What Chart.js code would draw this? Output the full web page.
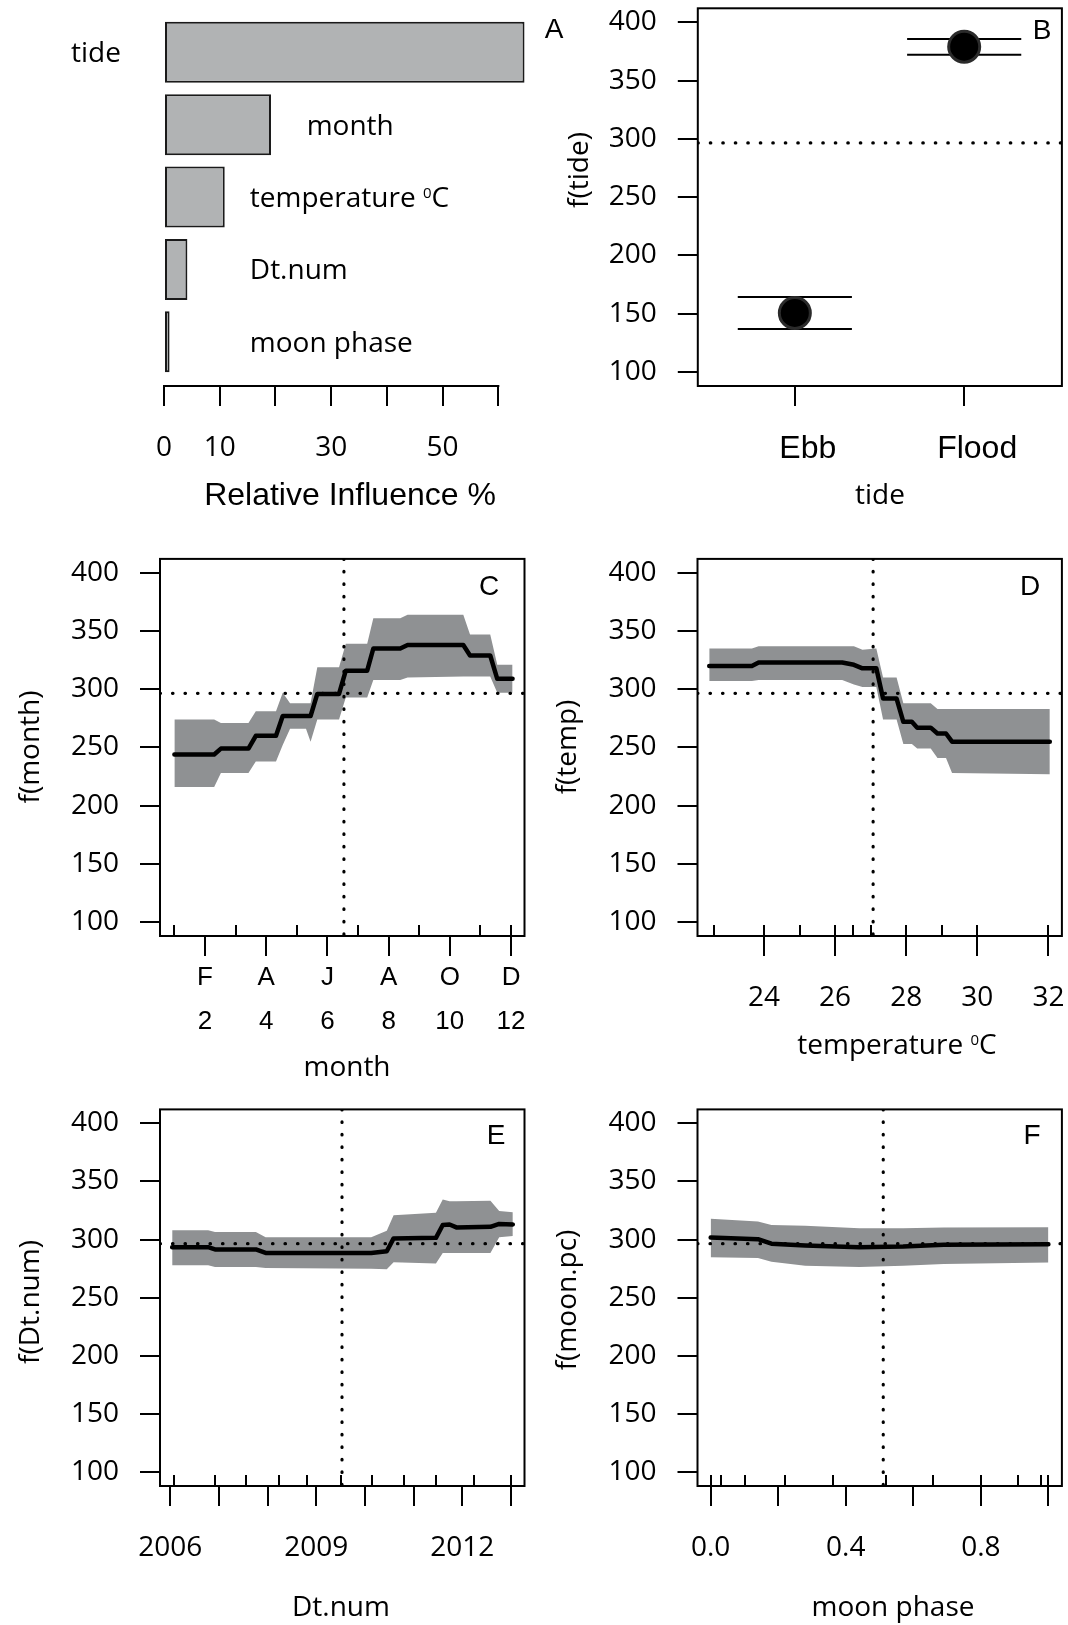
<!DOCTYPE html>
<html>
<head>
<meta charset="utf-8">
<script src="https://cdn.jsdelivr.net/npm/chart.js@4.4.1/dist/chart.umd.min.js"></script>
<style>
  html, body { margin: 0; padding: 0; background: #fff; }
  #figure { position: relative; width: 1068px; height: 1625px; background: #fff; overflow: hidden; }
  #figure canvas { position: absolute; }
</style>
</head>
<body>
<div id="figure">
  <canvas id="panelA" width="580" height="520" style="left:0;top:0"></canvas>
  <canvas id="panelB" width="534" height="520" style="left:534px;top:0"></canvas>
  <canvas id="panelC" width="534" height="565" style="left:0;top:520px"></canvas>
  <canvas id="panelD" width="534" height="565" style="left:534px;top:520px"></canvas>
  <canvas id="panelE" width="534" height="540" style="left:0;top:1085px"></canvas>
  <canvas id="panelF" width="534" height="540" style="left:534px;top:1085px"></canvas>
</div>
<script>
// ======================================
// Data
// ======================================

// A: relative influence of each predictor (%)
const predictors = ["tide", "month", "temperature ^0C", "Dt.num", "moon phase"];
const relInfluence = [64.7, 19.2, 10.9, 4.2, 1.0];
const influenceTicks = [0, 10, 20, 30, 40, 50, 60];
const influenceTickLabels = ["0", "10", "", "30", "", "50", ""];

// B: fitted effect of tide (factor)
const tideLevels = ["Ebb", "Flood"];
const tideFit = [150.7, 379.1];
const tideUpper = [164.4, 385.7];
const tideLower = [136.9, 372.2];

// shared response axis and overall mean
const effectTicks = [100, 150, 200, 250, 300, 350, 400];
const meanResponse = 296.5;

// C: month
const monthX = [1.0, 2.3, 2.52, 3.42, 3.66, 4.32, 4.54, 4.78, 5.3, 5.45, 5.67, 6.38, 6.6, 7.3, 7.5, 8.38, 8.62, 10.44, 10.66, 11.32, 11.55, 12.05];
const monthFit = [244, 244, 249, 249, 260, 260, 277, 277, 277, 277, 296, 296, 316, 316, 335, 335, 338, 338, 329, 329, 309, 309];
const monthUpper = [274, 274, 271, 271, 281, 281, 297, 288, 288, 288, 319, 319, 339, 339, 361, 361, 364, 364, 347, 347, 321, 321];
const monthLower = [216, 216, 228, 228, 238, 238, 252, 266, 266, 255, 274, 274, 293, 293, 308, 308, 310, 311, 311, 311, 297, 297];
const monthTicks = [2, 4, 6, 8, 10, 12];
const monthLetters = ["F", "A", "J", "A", "O", "D"];
const monthRug = [1, 3, 5, 7, 9, 11, 12];
const monthMean = 6.54;

// D: temperature
const tempX = [22.46, 23.66, 23.85, 26.2, 26.53, 26.77, 27.16, 27.35, 27.73, 27.92, 28.16, 28.31, 28.69, 28.88, 29.12, 29.29, 32.04];
const tempFit = [320, 320, 323, 323, 321, 318, 318, 292, 292, 272, 272, 267, 267, 262, 262, 255, 255];
const tempUpper = [335, 335, 337, 337, 337, 334, 335, 310, 310, 288, 288, 288, 288, 283, 283, 283, 283];
const tempLower = [307, 307, 308, 308, 304, 302, 302, 274, 274, 253, 253, 249, 249, 241, 241, 228, 227];
const tempTicks = [24, 26, 28, 30, 32];
const tempRug = [22.6, 24, 25, 26, 26.5, 27, 28, 29, 30, 32];
const tempMean = 27.07;

// E: date (decimal year)
const dtX = [2006.04, 2006.78, 2006.92, 2007.76, 2007.96, 2010.13, 2010.45, 2010.59, 2011.46, 2011.6, 2011.74, 2011.88, 2012.58, 2012.76, 2013.04];
const dtFit = [293.5, 293.5, 291.5, 291.5, 288.5, 288.5, 290, 301, 301.5, 312.5, 313, 310.5, 311, 313.5, 313];
const dtUpper = [308, 308, 306.5, 306.5, 302, 302, 307.5, 321, 323, 334.5, 333, 333, 333.5, 324.5, 323.5];
const dtLower = [278, 278, 276.5, 276.5, 275.5, 275, 274.5, 280.5, 279.5, 288.5, 288.5, 288.5, 288.5, 302, 303];
const dtTicks = [2006, 2007, 2008, 2009, 2010, 2011, 2012, 2013];
const dtTickLabels = ["2006", "", "", "2009", "", "", "2012", ""];
const dtRug = [2006.08, 2006.91, 2007.56, 2008.23, 2008.82, 2009.51, 2010.14, 2010.8, 2011.46, 2012.24, 2013.0];
const dtMean = 2009.53;

// F: moon phase
const moonX = [0.0, 0.14, 0.18, 0.28, 0.44, 0.57, 0.69, 1.0];
const moonFit = [301.8, 300.3, 296.5, 295, 293.5, 294, 295.6, 296];
const moonUpper = [318, 315.6, 312.6, 312, 309.7, 309.7, 310.3, 310.6];
const moonLower = [284.8, 284.2, 281, 277.4, 276.5, 277.4, 278.9, 280.3];
const moonTicks = [0, 0.2, 0.4, 0.6, 0.8, 1.0];
const moonTickLabels = ["0.0", "", "0.4", "", "0.8", ""];
const moonRug = [0.0, 0.031, 0.102, 0.22, 0.361, 0.519, 0.659, 0.8, 0.909, 0.978, 1.0];
const moonMean = 0.511;

// ======================================
// Styles
// ======================================

const MYRIAD = "'Open Sans', 'Noto Sans', sans-serif";
const HELV = "'Liberation Sans', Arial, sans-serif";
const BAND = "#8f9193";
const BAR = "#b1b3b4";

Chart.defaults.font.family = MYRIAD;
Chart.defaults.color = "#000";

// ======================================
// Text helper (supports "^x" superscript)
// ======================================

function drawRich(ctx, text, x, y, size, family, align) {
    const parts = text.split("^");
    const runs = [{ t: parts[0], sup: false }];
    parts.slice(1).forEach(p => {
        runs.push({ t: p.charAt(0), sup: true });
        if (p.length > 1) runs.push({ t: p.slice(1), sup: false });
    });
    const supSize = Math.round(size * 0.55);
    let total = 0;
    runs.forEach(r => {
        ctx.font = (r.sup ? supSize : size) + "px " + family;
        r.w = ctx.measureText(r.t).width;
        total += r.w;
    });
    let cx = align === "center" ? x - total / 2 : (align === "right" ? x - total : x);
    const base = y + size * 0.357;
    ctx.textAlign = "left";
    ctx.textBaseline = "alphabetic";
    runs.forEach(r => {
        ctx.font = (r.sup ? supSize : size) + "px " + family;
        ctx.fillText(r.t, cx, r.sup ? base - 0.714 * (size - supSize) : base);
        cx += r.w;
    });
}

// ======================================
// Plugins
// ======================================

const panelText = {
    id: "panelText",
    afterDraw(chart, args, opts) {
        const ctx = chart.ctx;
        (opts.items || []).forEach(item => {
            ctx.save();
            ctx.fillStyle = "#000";
            ctx.translate(item.x, item.y);
            if (item.rotate) ctx.rotate(item.rotate);
            drawRich(ctx, item.text, 0, 0, item.size, item.family, "center");
            ctx.restore();
        });
    }
};

const frame = {
    id: "frame",
    defaults: { display: false },
    afterDatasetsDraw(chart, args, opts) {
        if (!opts.display) return;
        const { left, top, right, bottom } = chart.chartArea;
        const ctx = chart.ctx;
        ctx.save();
        ctx.lineWidth = 2;
        ctx.strokeStyle = "#000";
        ctx.strokeRect(left, top, right - left, bottom - top);
        ctx.restore();
    }
};

// short data ticks along the inside of the bottom axis
const rug = {
    id: "rug",
    afterDatasetsDraw(chart, args, opts) {
        if (!opts.values) return;
        const ctx = chart.ctx;
        const xs = chart.scales.x;
        const bottom = chart.chartArea.bottom;
        ctx.save();
        ctx.lineWidth = 2;
        ctx.strokeStyle = "#000";
        ctx.beginPath();
        opts.values.forEach(v => {
            const px = Math.round(xs.getPixelForValue(v));
            ctx.moveTo(px, bottom);
            ctx.lineTo(px, bottom - 11);
        });
        ctx.stroke();
        ctx.restore();
    }
};

// axis line spanning first to last tick only (panel A)
const axisLine = {
    id: "axisLine",
    afterDraw(chart, args, opts) {
        if (!opts.ticks) return;
        const ctx = chart.ctx;
        const xs = chart.scales.x;
        const y = chart.chartArea.bottom;
        ctx.save();
        ctx.lineWidth = 2;
        ctx.strokeStyle = "#000";
        ctx.beginPath();
        ctx.moveTo(xs.getPixelForValue(opts.ticks[0]) - 1, y);
        ctx.lineTo(xs.getPixelForValue(opts.ticks[opts.ticks.length - 1]) + 1, y);
        ctx.stroke();
        ctx.restore();
    }
};

// predictor names beside the bars (panel A)
const barLabels = {
    id: "barLabels",
    afterDatasetsDraw(chart, args, opts) {
        if (!opts.labels) return;
        const ctx = chart.ctx;
        const xs = chart.scales.x;
        const meta = chart.getDatasetMeta(0);
        ctx.save();
        ctx.fillStyle = "#000";
        meta.data.forEach((bar, i) => {
            drawRich(ctx, opts.labels[i], xs.getPixelForValue(opts.anchors[i]), bar.y,
                opts.size, opts.family, opts.align[i]);
        });
        ctx.restore();
    }
};

Chart.register(panelText, frame, rug, axisLine, barLabels);

// ======================================
// Shared axis builders
// ======================================

function pairs(xs, ys) {
    return xs.map((x, i) => ({ x: x, y: ys[i] }));
}

function fixedTicks(values) {
    return scale => { scale.ticks = values.map(v => ({ value: v })); };
}

// fixed axis size, no extra room reserved for edge labels
function fitHeight(h) {
    return s => { s.height = h; s.paddingLeft = 0; s.paddingRight = 0; };
}

function fitWidth(w) {
    return s => { s.width = w; s.paddingTop = 0; s.paddingBottom = 0; };
}

function xAxis(min, max, ticks, labels, font, padding, height, labelOffset) {
    return {
        type: "linear",
        min: min,
        max: max,
        afterBuildTicks: fixedTicks(ticks),
        afterFit: fitHeight(height || 100),
        ticks: {
            autoSkip: false,
            maxRotation: 0,
            padding: padding,
            labelOffset: labelOffset || 0,
            font: font,
            callback: (v, i) => labels[i]
        },
        grid: { drawOnChartArea: false, tickLength: 20, lineWidth: 2, color: "#000" },
        border: { display: false }
    };
}

function yAxis() {
    return {
        type: "linear",
        min: 88,
        max: 412,
        afterBuildTicks: fixedTicks(effectTicks),
        afterFit: fitWidth(100),
        ticks: {
            padding: 21,
            font: { family: MYRIAD, size: 28 },
            callback: v => String(v)
        },
        grid: { drawOnChartArea: false, tickLength: 20, lineWidth: 2, color: "#000" },
        border: { display: false }
    };
}

function dottedLine(points) {
    return {
        data: points,
        borderColor: "#000",
        borderWidth: 3.2,
        borderDash: [0.5, 12],
        borderCapStyle: "round",
        pointRadius: 0,
        order: 1
    };
}

const baseOptions = {
    responsive: false,
    maintainAspectRatio: false,
    animation: false,
    devicePixelRatio: 1,
    events: []
};

function layoutPadding(p) {
    return { autoPadding: false, padding: p };
}

// ======================================
// A: relative influence bars
// ======================================

new Chart(document.getElementById("panelA"), {
    type: "bar",
    data: {
        datasets: [{
            data: relInfluence.map((v, i) => ({ x: v, y: i })),
            backgroundColor: BAR,
            borderColor: "#1a1a1a",
            borderWidth: 2,
            borderSkipped: false,
            barPercentage: 0.842,
            categoryPercentage: 1
        }]
    },
    options: {
        ...baseOptions,
        indexAxis: "y",
        layout: layoutPadding({ left: 164, right: 53.8, top: 16.1, bottom: 54 }),
        scales: {
            x: xAxis(0, 65, influenceTicks, influenceTickLabels, { family: MYRIAD, size: 28 }, 25, 80),
            y: {
                type: "linear",
                reverse: true,
                offset: false,
                min: -0.5,
                max: 4.61,
                display: false,
                afterBuildTicks: fixedTicks(predictors.map((p, i) => i))
            }
        },
        plugins: {
            legend: { display: false },
            tooltip: { enabled: false },
            axisLine: { ticks: influenceTicks },
            barLabels: {
                labels: predictors,
                anchors: [-12.2, 25.6, 15.4, 15.4, 15.4],
                align: ["center", "left", "left", "left", "left"],
                size: 28,
                family: MYRIAD
            },
            panelText: {
                items: [
                    { text: "Relative Influence %", x: 350, y: 494, size: 32, family: HELV },
                    { text: "A", x: 554, y: 28, size: 28, family: HELV }
                ]
            }
        }
    }
});

// ======================================
// B: tide effect with interval bars
// ======================================

const tideX = tideLevels.map((t, i) => i + 1);
const barHalf = 0.337;
const tideDatasets = [];

tideX.forEach((x, i) => {
    [tideUpper[i], tideLower[i]].forEach(v => {
        tideDatasets.push({
            data: [{ x: x - barHalf, y: v }, { x: x + barHalf, y: v }],
            borderColor: "#000",
            borderWidth: 2,
            pointRadius: 0,
            order: 3
        });
    });
});

tideDatasets.push({
    data: pairs(tideX, tideFit),
    showLine: false,
    pointRadius: 15.5,
    pointBorderWidth: 3,
    pointBackgroundColor: "#000",
    pointBorderColor: "#2b2b2b",
    order: 2
});

tideDatasets.push(dottedLine([{ x: 0.427, y: meanResponse }, { x: 2.577, y: meanResponse }]));

new Chart(document.getElementById("panelB"), {
    type: "line",
    data: { datasets: tideDatasets },
    options: {
        ...baseOptions,
        layout: layoutPadding({ left: 63.8, right: 6.1, top: 8.3, bottom: 54 }),
        scales: {
            x: xAxis(0.427, 2.577, tideX, tideLevels, { family: HELV, size: 32 }, 24, 80, 13),
            y: yAxis()
        },
        plugins: {
            legend: { display: false },
            tooltip: { enabled: false },
            frame: { display: true },
            panelText: {
                items: [
                    { text: "f(tide)", x: 44, y: 170, size: 28, family: MYRIAD, rotate: -Math.PI / 2 },
                    { text: "tide", x: 346, y: 494, size: 28, family: MYRIAD },
                    { text: "B", x: 508, y: 29, size: 28, family: HELV }
                ]
            }
        }
    }
});

// ======================================
// C-F: partial dependence panels
// ======================================

function effectPanel(id, cfg) {
    return new Chart(document.getElementById(id), {
        type: "line",
        data: {
            datasets: [
                {
                    data: pairs(cfg.x, cfg.upper),
                    fill: "+1",
                    backgroundColor: BAND,
                    borderColor: "transparent",
                    borderWidth: 0,
                    pointRadius: 0,
                    order: 3
                },
                {
                    data: pairs(cfg.x, cfg.lower),
                    borderColor: "transparent",
                    borderWidth: 0,
                    pointRadius: 0,
                    order: 3
                },
                {
                    data: pairs(cfg.x, cfg.fit),
                    borderColor: "#000",
                    borderWidth: 4.5,
                    borderCapStyle: "round",
                    borderJoinStyle: "round",
                    pointRadius: 0,
                    order: 2
                },
                dottedLine([{ x: cfg.min, y: meanResponse }, { x: cfg.max, y: meanResponse }]),
                dottedLine([{ x: cfg.mean, y: 412 }, { x: cfg.mean, y: 88 }])
            ]
        },
        options: {
            ...baseOptions,
            layout: layoutPadding(cfg.padding),
            scales: {
                x: xAxis(cfg.min, cfg.max, cfg.ticks, cfg.tickLabels, cfg.tickFont, cfg.tickPadding),
                y: yAxis()
            },
            plugins: {
                legend: { display: false },
                tooltip: { enabled: false },
                frame: { display: true },
                rug: { values: cfg.rug },
                panelText: { items: cfg.texts }
            }
        }
    });
}

effectPanel("panelC", {
    x: monthX, fit: monthFit, upper: monthUpper, lower: monthLower,
    min: 0.53, max: 12.44, mean: monthMean, rug: monthRug,
    ticks: monthTicks,
    tickLabels: monthTicks.map((m, i) => [monthLetters[i], String(m)]),
    tickFont: { family: HELV, size: 26, lineHeight: 1.72 },
    tickPadding: -1,
    padding: { left: 60, right: 9.5, top: 38.9, bottom: 49 },
    texts: [
        { text: "f(month)", x: 29, y: 227, size: 28, family: MYRIAD, rotate: -Math.PI / 2 },
        { text: "month", x: 347, y: 546, size: 28, family: MYRIAD },
        { text: "C", x: 489, y: 65, size: 28, family: HELV }
    ]
});

effectPanel("panelD", {
    x: tempX, fit: tempFit, upper: tempUpper, lower: tempLower,
    min: 22.13, max: 32.38, mean: tempMean, rug: tempRug,
    ticks: tempTicks,
    tickLabels: tempTicks.map(String),
    tickFont: { family: MYRIAD, size: 28 },
    tickPadding: 25,
    padding: { left: 63.5, right: 6.1, top: 38.9, bottom: 49 },
    texts: [
        { text: "f(temp)", x: 32, y: 227, size: 28, family: MYRIAD, rotate: -Math.PI / 2 },
        { text: "temperature ^0C", x: 363, y: 524, size: 28, family: MYRIAD },
        { text: "D", x: 496, y: 65, size: 28, family: HELV }
    ]
});

effectPanel("panelE", {
    x: dtX, fit: dtFit, upper: dtUpper, lower: dtLower,
    min: 2005.79, max: 2013.28, mean: dtMean, rug: dtRug,
    ticks: dtTicks,
    tickLabels: dtTickLabels,
    tickFont: { family: MYRIAD, size: 28 },
    tickPadding: 25,
    padding: { left: 60, right: 9.5, top: 24.4, bottom: 39 },
    texts: [
        { text: "f(Dt.num)", x: 29, y: 217, size: 28, family: MYRIAD, rotate: -Math.PI / 2 },
        { text: "Dt.num", x: 341, y: 521, size: 28, family: MYRIAD },
        { text: "E", x: 496, y: 49, size: 28, family: HELV }
    ]
});

effectPanel("panelF", {
    x: moonX, fit: moonFit, upper: moonUpper, lower: moonLower,
    min: -0.039, max: 1.04, mean: moonMean, rug: moonRug,
    ticks: moonTicks,
    tickLabels: moonTickLabels,
    tickFont: { family: MYRIAD, size: 28 },
    tickPadding: 25,
    padding: { left: 63.5, right: 6.1, top: 24.4, bottom: 39 },
    texts: [
        { text: "f(moon.pc)", x: 32, y: 215, size: 28, family: MYRIAD, rotate: -Math.PI / 2 },
        { text: "moon phase", x: 359, y: 521, size: 28, family: MYRIAD },
        { text: "F", x: 498, y: 49, size: 28, family: HELV }
    ]
});
</script>
</body>
</html>
